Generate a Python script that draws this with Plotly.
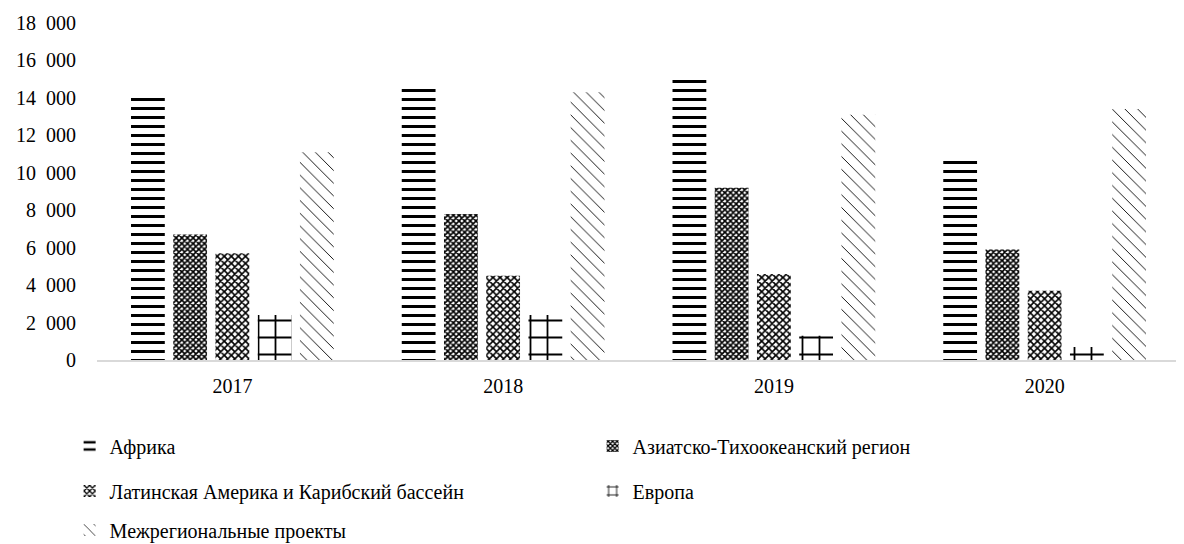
import plotly.graph_objects as go

# %% Data
years = ['2017', '2018', '2019', '2020']

africa = [14000, 14500, 15000, 10900]
asia_pacific = [6700, 7800, 9200, 5900]
latin_america = [5700, 4500, 4600, 3700]
europe = [2400, 2400, 1300, 700]
interregional = [11100, 14300, 13100, 13400]

y_ticks = list(range(0, 18001, 2000))
# Excel-style labels with a wide space as the thousands separator
y_tick_labels = ['{:,}'.format(v).replace(',', '\u2007') for v in y_ticks]

# %% Series styling: (name, values, pattern shape, size, solidity, legend)
series = [
    ('Африка', africa, '-', 9, 0.34, 'legend'),
    ('Азиатско-Тихоокеанский регион', asia_pacific, 'x', 4, 0.65, 'legend'),
    ('Латинская Америка и Карибский бассейн', latin_america, 'x', 5, 0.55, 'legend2'),
    ('Европа', europe, '+', 17, 0.2, 'legend2'),
    ('Межрегиональные проекты', interregional, '\\', 9, 0.1, 'legend3'),
]

font_family = 'Times New Roman, Liberation Serif, serif'

fig = go.Figure()
for name, values, shape, size, solidity, legend in series:
    fig.add_trace(go.Bar(x = years,
                         y = values,
                         name = name,
                         legend = legend,
                         marker = dict(color = 'white',
                                       line = dict(width = 0),
                                       pattern = dict(shape = shape,
                                                      size = size,
                                                      solidity = solidity,
                                                      fgcolor = 'black',
                                                      fgopacity = 1,
                                                      bgcolor = 'white',
                                                      fillmode = 'overlay')),
                         hoverinfo = 'skip'))

# the page body adds an 8px margin, so the figure is 8px smaller each way
legend_common = dict(orientation = 'h',
                     xref = 'container',
                     yref = 'container',
                     x = 0.0524,
                     xanchor = 'left',
                     yanchor = 'middle',
                     entrywidth = 478,
                     entrywidthmode = 'pixels',
                     itemwidth = 30,
                     font = dict(family = font_family, size = 20, color = 'black'),
                     bgcolor = 'rgba(0,0,0,0)')

fig.update_layout(template = 'simple_white',
                  width = 1176,
                  height = 536,
                  barmode = 'group',
                  bargap = 0.22,
                  bargroupgap = 0.2,
                  font = dict(family = font_family, size = 20, color = 'black'),
                  margin = dict(l = 89, r = 4, t = 15, b = 184),
                  showlegend = True,
                  legend = dict(legend_common, y = 0.183),
                  legend2 = dict(legend_common, y = 0.099),
                  legend3 = dict(legend_common, y = 0.026),
                  plot_bgcolor = 'white',
                  paper_bgcolor = 'white')

fig.update_xaxes(showline = True,
                 linecolor = '#d9d9d9',
                 linewidth = 1.5,
                 ticks = '',
                 ticklabelstandoff = 7,
                 tickfont = dict(family = font_family, size = 20))
fig.update_yaxes(range = [0, 18000],
                 tickvals = y_ticks,
                 ticktext = y_tick_labels,
                 showline = False,
                 ticks = '',
                 showgrid = False,
                 ticklabelstandoff = 20,
                 tickfont = dict(family = font_family, size = 20))

fig.write_html('out.html')
